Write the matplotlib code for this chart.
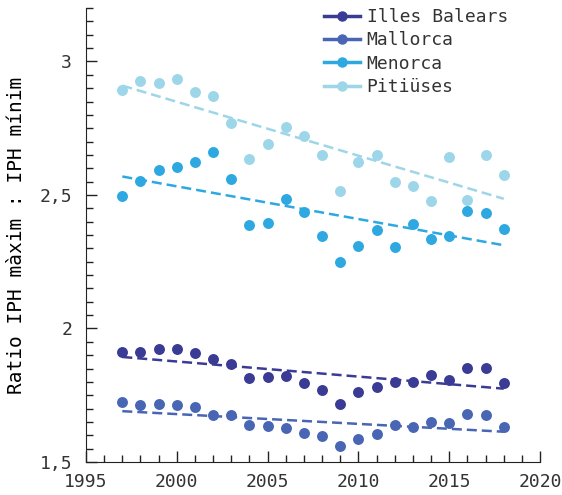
import numpy as np
import matplotlib
matplotlib.use('Agg')
import matplotlib.pyplot as plt
from matplotlib.lines import Line2D
from matplotlib.ticker import MultipleLocator, FuncFormatter

# Роки та значення
years = list(range(1997, 2019))

illes_balears = [1.911, 1.913, 1.923, 1.924, 1.907, 1.886, 1.867, 1.816, 1.817, 1.822, 1.797,
                 1.771, 1.718, 1.761, 1.782, 1.801, 1.798, 1.827, 1.807, 1.852, 1.852, 1.795]
mallorca = [1.725, 1.712, 1.717, 1.713, 1.707, 1.676, 1.676, 1.639, 1.636, 1.626, 1.607,
            1.599, 1.561, 1.585, 1.606, 1.637, 1.630, 1.651, 1.647, 1.681, 1.677, 1.632]
menorca = [2.496, 2.551, 2.594, 2.606, 2.622, 2.662, 2.560, 2.388, 2.396, 2.484, 2.435,
           2.345, 2.248, 2.309, 2.369, 2.307, 2.391, 2.336, 2.346, 2.441, 2.431, 2.373]
pitiuses = [2.893, 2.927, 2.918, 2.934, 2.887, 2.870, 2.770, 2.634, 2.690, 2.756, 2.721,
            2.649, 2.516, 2.622, 2.650, 2.549, 2.534, 2.479, 2.642, 2.481, 2.649, 2.576]

names = ['Illes Balears', 'Mallorca', 'Menorca', 'Pitiüses']
colors = ['#3a3b94', '#4866b4', '#2ea8e0', '#9dd6e8']
series = [illes_balears, mallorca, menorca, pitiuses]

plt.rcParams['font.family'] = 'DejaVu Sans Mono'
plt.rcParams['text.color'] = '#333333'
plt.rcParams['xtick.labelcolor'] = '#333333'
plt.rcParams['ytick.labelcolor'] = '#333333'

fig = plt.figure(figsize=(5.62, 4.95), dpi=100)
ax = fig.add_axes([0.153, 0.0667, 0.808, 0.917])

x = np.array(years)
for vals, col in zip(series, colors):
    ax.scatter(x, vals, s=62, color=col, zorder=3, linewidths=0)
    # лінія тренду
    k, b = np.polyfit(x, vals, 1)
    ax.plot(x, k * x + b, color=col, lw=1.8, dashes=(4, 2), zorder=2)

ax.set_xlim(1995, 2020)
ax.set_ylim(1.5, 3.2)
ax.xaxis.set_major_locator(MultipleLocator(5))
ax.xaxis.set_minor_locator(MultipleLocator(1))
ax.yaxis.set_major_locator(MultipleLocator(0.5))
ax.yaxis.set_minor_locator(MultipleLocator(0.05))
ax.yaxis.set_major_formatter(FuncFormatter(lambda v, p: f'{v:g}'.replace('.', ',')))

for side in ['top', 'right']:
    ax.spines[side].set_visible(False)
ax.spines['left'].set_color('#222222')
ax.spines['bottom'].set_color('#222222')
ax.tick_params(which='both', direction='in', color='#222222')
ax.tick_params(which='major', length=8, width=1, labelsize=13)
ax.tick_params(which='minor', length=5, width=1)
ax.tick_params(axis='y', which='major', pad=10)
ax.tick_params(axis='x', which='major', pad=8)

ax.set_ylabel('Ratio IPH màxim : IPH mínim', fontsize=14, labelpad=10)

handles = [Line2D([0], [0], color=c, lw=2.5, marker='o', markersize=6.5) for c in colors]
ax.legend(handles, names, loc='upper right', bbox_to_anchor=(0.965, 1.036), frameon=False,
          fontsize=13, handlelength=2.0, handletextpad=0.35, labelspacing=0.3)

fig.savefig('out.png', dpi=100)
